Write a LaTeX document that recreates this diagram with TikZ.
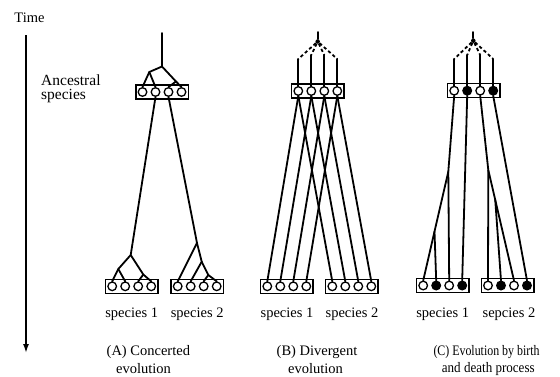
\documentclass[tikz,border=0pt]{standalone}
\usepackage{fontspec}
\setmainfont{Liberation Serif}
\usetikzlibrary{calc,arrows.meta}
\tikzset{
  geneboxst/.style={draw, line width=1.5pt, minimum width=52.5pt, minimum height=14pt, inner sep=0pt},
  gene/.style={draw, circle, line width=1.3pt, minimum size=8.6pt, inner sep=0pt, fill=white},
  bgene/.style={gene, fill=black},
  branch/.style={line width=1.8pt, line cap=round, line join=round},
  dashbranch/.style={line width=1.8pt, dash pattern=on 3.2pt off 2.6pt},
  lab/.style={font=\fontsize{14.5}{17}\selectfont, inner sep=0pt},
  rootdot/.style={circle, fill=black, minimum size=4.5pt, inner sep=0pt},
}
\newcommand\genebox[7]{%
  \node[geneboxst] (#1) at (#2,#3) {};
  \node[#4] (#1-1) at (#2-19.5,#3) {};
  \node[#5] (#1-2) at (#2-6.5,#3) {};
  \node[#6] (#1-3) at (#2+6.5,#3) {};
  \node[#7] (#1-4) at (#2+19.5,#3) {};
}
\begin{document}
\begin{tikzpicture}[x=1pt,y=-1pt]
\useasboundingbox (0,0) rectangle (560,376);

% time axis
\node[lab] (time) at (29.5,18) {Time};
\coordinate (t0) at (26,35);
\coordinate (t1) at (26,353);
\draw[line width=1.6pt,-{Latex[length=9pt,width=6pt]}] (t0) -- (t1);
\node[lab, font=\fontsize{15.5}{17}\selectfont, anchor=west] (anc1) at (41,80) {Ancestral};
\node[lab, font=\fontsize{15.5}{17}\selectfont, anchor=west] (anc2) at (41,96) {species};

% ---------- (A) ----------
\genebox{aA}{162}{92}{gene}{gene}{gene}{gene}
\genebox{a1}{131.7}{286.3}{gene}{gene}{gene}{gene}
\genebox{a2}{197.2}{286.3}{gene}{gene}{gene}{gene}
\coordinate (aA-top) at (162,33);
\coordinate (aA-r) at (162,66.5);
\coordinate (aA-l) at (149.3,72);
\coordinate (aA-m) at (176,81.5);
\draw[branch] (aA-top) -- (aA-r) -- (aA-l) -- (aA-1.north);
\draw[branch] (aA-l) -- (aA-2.north);
\draw[branch] (aA-r) -- (aA-m) -- (aA-3.north);
\draw[branch] (aA-m) -- (aA-4.north);

\coordinate (a1-r) at (130.7,255);
\coordinate (a1-l) at (118.3,269);
\coordinate (a1-m) at (143.3,274.5);
\draw[branch] (aA-2.south) -- (a1-r) -- (a1-l) -- (a1-1.north);
\draw[branch] (a1-l) -- (a1-2.north);
\draw[branch] (a1-r) -- (a1-m) -- (a1-3.north);
\draw[branch] (a1-m) -- (a1-4.north);

\coordinate (a2-r) at (197,243);
\coordinate (a2-n2) at (201.7,261.7);
\coordinate (a2-n3) at (208.3,275);
\draw[branch] (aA-3.south) -- (a2-r) -- (a2-1.north);
\draw[branch] (a2-r) -- (a2-n2) -- (a2-2.north);
\draw[branch] (a2-n2) -- (a2-n3) -- (a2-3.north);
\draw[branch] (a2-n3) -- (a2-4.north);

\node[lab] (a1lab) at (131.7,314) {species 1};
\node[lab] (a2lab) at (197.2,314) {species 2};
\node[lab, anchor=west] (acap1) at (106.5,352) {(A) Concerted};
\node[lab, anchor=west] (acap2) at (116,369) {evolution};

% ---------- (B) ----------
\genebox{bA}{317.8}{91}{gene}{gene}{gene}{gene}
\genebox{b1}{286.8}{286.3}{gene}{gene}{gene}{gene}
\genebox{b2}{351.8}{286.3}{gene}{gene}{gene}{gene}
\coordinate (bA-top) at (317.7,32);
\node[rootdot] (bA-root) at (317.7,41.5) {};
\draw[branch] (bA-top) -- (bA-root);
\coordinate (bA-u1) at (298.3,59);
\coordinate (bA-u2) at (311.3,55);
\coordinate (bA-u3) at (324.3,55);
\coordinate (bA-u4) at (337.3,59);
\foreach \i in {1,2,3,4}{
  \draw[dashbranch] (bA-root) -- (bA-u\i);
  \draw[branch] (bA-u\i) -- (bA-\i.north);
  \draw[branch] (bA-\i.south) -- (b1-\i.north);
  \draw[branch] (bA-\i.south) -- (b2-\i.north);
}
\node[lab] (b1lab) at (287,314) {species 1};
\node[lab] (b2lab) at (352,314) {species 2};
\node[lab, anchor=west] (bcap1) at (276.5,352) {(B) Divergent};
\node[lab, anchor=west] (bcap2) at (288,369) {evolution};

% ---------- (C) ----------
\genebox{cA}{473.7}{90.7}{gene}{bgene}{gene}{bgene}
\genebox{c1}{442.7}{285.5}{gene}{bgene}{gene}{bgene}
\genebox{c2}{507.5}{285.5}{gene}{bgene}{gene}{bgene}
\coordinate (cA-top) at (473.3,32);
\node[rootdot] (cA-root) at (473.3,40.7) {};
\draw[branch] (cA-top) -- (cA-root);
\coordinate (cA-u1) at (454.2,59);
\coordinate (cA-u2) at (467.2,55);
\coordinate (cA-u3) at (480.2,55);
\coordinate (cA-u4) at (493.2,59);
\foreach \i in {1,2,3,4}{
  \draw[dashbranch] (cA-root) -- (cA-u\i);
  \draw[branch] (cA-u\i) -- (cA-\i.north);
}
\coordinate (c-n1) at (448.3,171.7);
\coordinate (c-n1b) at ($(c-n1)!0.55!(c1-1.north)$);
\coordinate (c-n3) at (488.3,170);
\coordinate (c-n3b) at ($(c-n3)!0.27!(c2-3.north)$);
\draw[branch] (cA-1.south) -- (c-n1) -- (c1-1.north);
\draw[branch] (c-n1) -- (c1-3.north);
\draw[branch] (c-n1b) -- (c1-2.north);
\draw[branch] (cA-2.south) -- (c1-4.north);
\draw[branch] (cA-3.south) -- (c-n3) -- (c2-3.north);
\draw[branch] (c-n3) -- (c2-1.north);
\draw[branch] (c-n3b) -- (c2-2.north);
\draw[branch] (cA-4.south) -- (c2-4.north);

\node[lab] (c1lab) at (442.7,314) {species 1};
\node[lab] (c2lab) at (509,314) {sepcies 2};
\node[lab, anchor=west] (ccap1) at (433.3,352) {\scalebox{0.82}[1]{(C) Evolution by birth}};
\node[lab, anchor=west] (ccap2) at (441.7,369) {\scalebox{0.9}[1]{and death process}};
\end{tikzpicture}
\end{document}
